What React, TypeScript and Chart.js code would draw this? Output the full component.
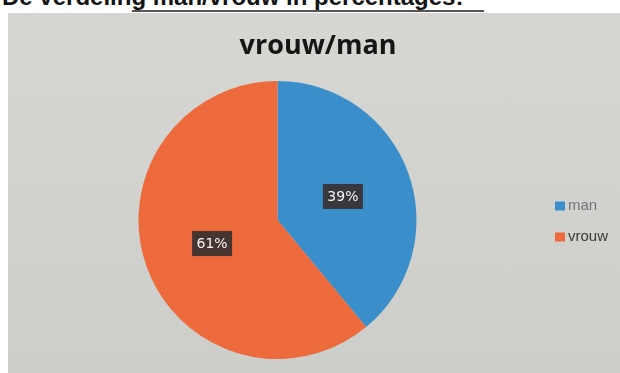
import React, { useEffect, useRef } from "react";
import { Chart, registerables } from "chart.js";

Chart.register(...registerables);

const categories = ["man", "vrouw"];
const values = [39, 61];
const colors = ["#3a8fca", "#ec6a3c"];
const legendTextColors = ["#6f747a", "#3a3a3a"];
const chartTitle = "vrouw/man";
const heading = "De verdeling man/vrouw in percentages:";

const labelBoxes = {
  id: "labelBoxes",
  afterDatasetsDraw(chart: any) {
    const ctx = chart.ctx;
    const meta = chart.getDatasetMeta(0);
    const data = chart.data.datasets[0].data as number[];
    const total = data.reduce((a, b) => a + b, 0);
    meta.data.forEach((arc: any, i: number) => {
      const p = arc.getProps(["x", "y", "startAngle", "endAngle", "outerRadius"], true);
      const mid = (p.startAngle + p.endAngle) / 2;
      const r = p.outerRadius * 0.5;
      const cx = p.x + Math.cos(mid) * r;
      const cy = p.y + Math.sin(mid) * r;
      const txt = Math.round((data[i] / total) * 100) + "%";
      ctx.save();
      const w = 40, h = 25;
      ctx.fillStyle = "rgba(55,48,48,0.92)";
      ctx.fillRect(cx - w / 2, cy - h / 2, w, h);
      ctx.fillStyle = "#f4f4f4";
      ctx.font = "14px 'DejaVu Sans'";
      ctx.textAlign = "center";
      ctx.textBaseline = "middle";
      ctx.fillText(txt, cx, cy + 1);
      ctx.restore();
    });
  },
};

const sideLegendAndTitle = {
  id: "sideLegendAndTitle",
  afterDraw(chart: any) {
    const ctx = chart.ctx;
    const area = chart.chartArea;
    const labels = chart.data.labels as string[];
    const bg = chart.data.datasets[0].backgroundColor as string[];
    ctx.save();
    ctx.fillStyle = "#151515";
    ctx.font = "bold 27px 'Open Sans'";
    ctx.textAlign = "center";
    ctx.textBaseline = "middle";
    ctx.fillText(chartTitle, chart.width / 2, 33);
    const midY = (area.top + area.bottom) / 2 + 1.5;
    const step = 31;
    labels.forEach((lab, i) => {
      const y = midY + (i - (labels.length - 1) / 2) * step;
      const x = area.right + 8;
      ctx.fillStyle = bg[i];
      ctx.fillRect(x, y - 4.5, 10, 9);
      ctx.fillStyle = legendTextColors[i];
      ctx.font = "15px 'Liberation Sans'";
      ctx.textAlign = "left";
      ctx.textBaseline = "middle";
      ctx.fillText(lab, x + 13, y);
    });
    ctx.restore();
  },
};

export default function App() {
  const ref = useRef<HTMLCanvasElement>(null);
  useEffect(() => {
    if (!ref.current) return;
    const chart = new Chart(ref.current, {
      type: "pie",
      data: {
        labels: categories,
        datasets: [{ data: values, backgroundColor: colors, borderWidth: 0 }],
      },
      options: {
        animation: false,
        responsive: false,
        maintainAspectRatio: false,
        layout: { padding: { left: 0, right: 81, top: 68, bottom: 14 } },
        plugins: {
          title: { display: false },
          legend: { display: false },
          tooltip: { enabled: false },
        },
      },
      plugins: [labelBoxes, sideLegendAndTitle],
    });
    return () => chart.destroy();
  }, []);
  return (
    <div style={{ position: "fixed", left: 0, top: 0, width: 620, height: 373, background: "#fff", overflow: "hidden" }}>
      <div
        style={{
          position: "absolute",
          left: 2,
          top: -17,
          fontFamily: "'Liberation Sans', sans-serif",
          fontWeight: "bold",
          fontSize: 24,
          color: "#141414",
          whiteSpace: "nowrap",
        }}
      >
        {heading}
      </div>
      <div
        style={{
          position: "absolute",
          left: 132,
          top: 10,
          width: 352,
          height: 0,
          borderTop: "2px solid rgba(30,30,30,0.75)",
        }}
      />
      <div
        style={{
          position: "absolute",
          left: 8,
          top: 13,
          width: 620,
          height: 360,
          background: "linear-gradient(180deg, #d6d7d3 0%, #cdceca 100%)",
        }}
      >
        <canvas ref={ref} width={620} height={360} style={{ display: "block" }} />
      </div>
    </div>
  );
}
